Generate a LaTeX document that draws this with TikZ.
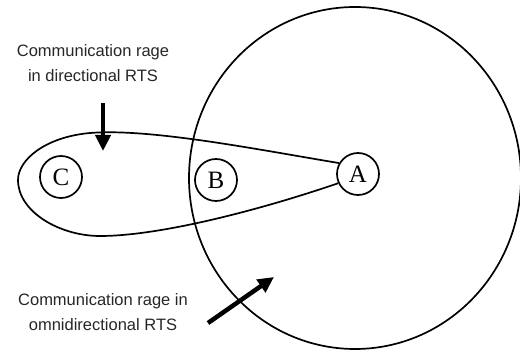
\documentclass[tikz,border=0pt]{standalone}
\usepackage{fontspec}
\setmainfont{Liberation Serif}
\newfontfamily\labelfont{Liberation Sans}
\usetikzlibrary{arrows.meta}
\begin{document}
\begin{tikzpicture}[x=1pt,y=-1pt,
  station/.style={circle,draw,line width=1.7pt,minimum size=42pt,inner sep=0pt,font=\fontsize{25}{25}\selectfont},
  rangeline/.style={line width=1.7pt},
  pointer/.style={line width=4.5pt,-{Triangle[length=16pt,width=15pt]}},
  caption/.style={font=\labelfont\fontsize{16.5}{25}\selectfont,align=center,text=black!85}]
\useasboundingbox (0,0) rectangle (520,355);
% omnidirectional range
\draw[rangeline] (355,178) ellipse [x radius=166pt, y radius=171pt];
% stations
\node[station] (A) at (358,174) {A};
\node[station] (B) at (216,180) {B};
\node[station] (C) at (61,177) {C};
% directional range
\draw[rangeline] (A.150) .. controls (260,150) and (150,128) .. (90,133)
  .. controls (45,137) and (18,160) .. (18,180)
  .. controls (18,212) and (60,236) .. (100,236)
  .. controls (160,236) and (260,210) .. (A.205);
% captions
\node[caption] (t1) at (93,63) {Communication rage\\in directional RTS};
\node[caption] (t2) at (103,312) {Communication rage in\\omnidirectional RTS};
\coordinate (p1s) at (103,103);
\coordinate (p1e) at (103,151);
\coordinate (p2s) at (208,323);
\coordinate (p2e) at (274,277);
\draw[pointer] (p1s) -- (p1e);
\draw[pointer] (p2s) -- (p2e);
\end{tikzpicture}
\end{document}
